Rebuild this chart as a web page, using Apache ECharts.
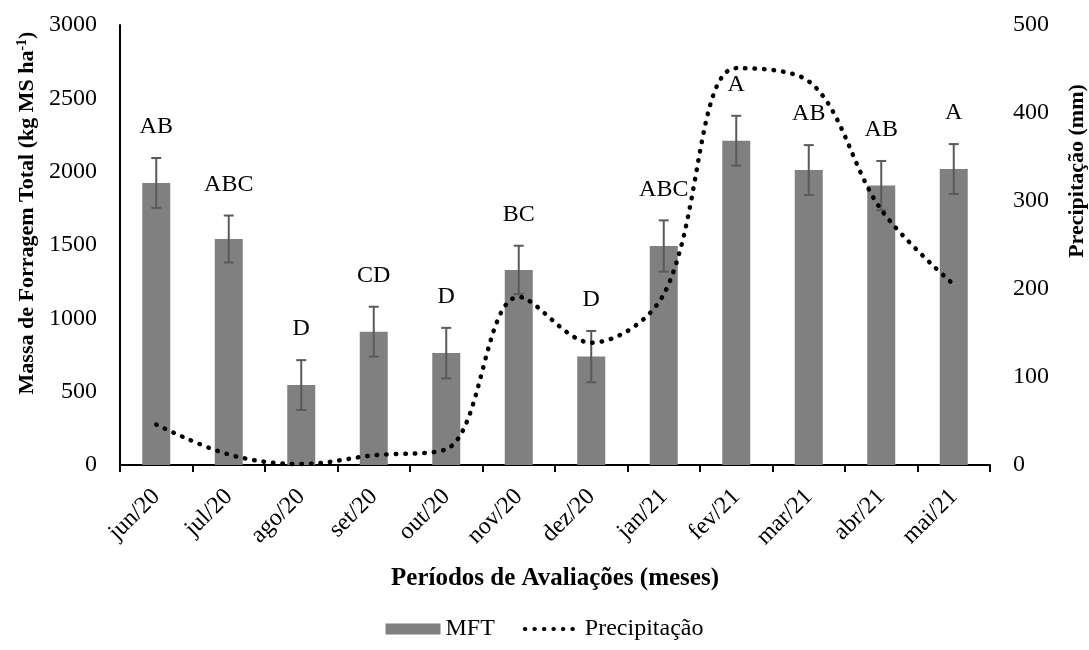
<!DOCTYPE html>
<html>
<head>
<meta charset="utf-8">
<script src="https://cdn.jsdelivr.net/npm/echarts@6/dist/echarts.min.js"></script>
<style>
  html, body { margin: 0; padding: 0; background: #fff; }
  #chart { width: 1089px; height: 650px; }
</style>
</head>
<body>
<div id="chart"></div>
<script>
const months = ['jun/20', 'jul/20', 'ago/20', 'set/20', 'out/20', 'nov/20', 'dez/20', 'jan/21', 'fev/21', 'mar/21', 'abr/21', 'mai/21'];
const mft = [1923, 1541, 545, 909, 763, 1330, 739, 1493, 2211, 2011, 1905, 2018];
const mftErr = [170, 160, 170, 170, 172, 165, 175, 175, 170, 170, 168, 170];
const letters = ['AB', 'ABC', 'D', 'CD', 'D', 'BC', 'D', 'ABC', 'A', 'AB', 'AB', 'A'];
const precip = [46, 12, 1, 11, 18, 191, 139, 194, 451, 436, 290, 205];

const font = 'Liberation Serif';
const chart = echarts.init(document.getElementById('chart'));

const errData = mft.map((v, i) => [i, v - mftErr[i], v + mftErr[i]]);

chart.setOption({
  animation: false,
  textStyle: { fontFamily: font },
  grid: { left: 120, right: 99, top: 25, bottom: 185, containLabel: false, outerBoundsMode: 'none' },
  legend: {
    bottom: 4,
    left: 'center',
    itemWidth: 55,
    itemHeight: 11,
    itemGap: 28,
    textStyle: { fontFamily: font, fontSize: 24, color: '#000' },
    data: [
      { name: 'MFT', icon: 'rect' },
      {
        name: 'Precipitação',
        itemStyle: { opacity: 0 },
        lineStyle: { color: '#000', width: 4, type: [0.5, 9], cap: 'round' }
      }
    ]
  },
  xAxis: {
    type: 'category',
    data: months,
    name: 'Períodos de Avaliações (meses)',
    nameLocation: 'middle',
    nameGap: 101,
    nameTextStyle: { fontFamily: font, fontSize: 25, fontWeight: 'bold', color: '#000' },
    axisLine: { lineStyle: { color: '#000', width: 2 } },
    axisTick: { show: true, length: 7, lineStyle: { color: '#000', width: 2 } },
    axisLabel: { rotate: 45, fontFamily: font, fontSize: 24, color: '#000', margin: 28 }
  },
  yAxis: [
    {
      type: 'value',
      min: 0,
      max: 3000,
      interval: 500,
      name: '{t|Massa de Forragem Total (kg MS ha}{s|-1}{t|)}',
      nameLocation: 'middle',
      nameGap: 79,
      nameRotate: 90,
      nameTextStyle: {
        padding: [0, 0, 0, 64],
        rich: {
          t: { fontFamily: font, fontSize: 22, fontWeight: 'bold', color: '#000' },
          s: { fontFamily: font, fontSize: 14, fontWeight: 'bold', color: '#000', padding: [0, 0, 10, 0] }
        }
      },
      axisLine: { show: true, lineStyle: { color: '#000', width: 2 } },
      axisTick: { show: false },
      splitLine: { show: false },
      axisLabel: { fontFamily: font, fontSize: 24, color: '#000', margin: 23, formatter: v => String(v) }
    },
    {
      type: 'value',
      min: 0,
      max: 500,
      interval: 100,
      name: 'Precipitação (mm)',
      nameLocation: 'middle',
      nameGap: 76,
      nameRotate: 90,
      nameTextStyle: { fontFamily: font, fontSize: 22, fontWeight: 'bold', color: '#000', padding: [0, 0, 0, 148] },
      axisLine: { show: false },
      axisTick: { show: false },
      splitLine: { show: false },
      axisLabel: { fontFamily: font, fontSize: 24, color: '#000', margin: 23, formatter: v => String(v) }
    }
  ],
  series: [
    {
      name: 'MFT',
      type: 'bar',
      data: mft,
      barWidth: 28,
      itemStyle: { color: '#808080' },
      z: 2
    },
    {
      name: 'errors',
      type: 'custom',
      data: errData,
      z: 3,
      renderItem: function (params, api) {
        const i = api.value(0);
        const lo = api.coord([i, api.value(1)]);
        const hi = api.coord([i, api.value(2)]);
        const cap = 5;
        const st = { stroke: '#5a5a5a', lineWidth: 2 };
        return {
          type: 'group',
          children: [
            { type: 'line', shape: { x1: hi[0], y1: hi[1], x2: lo[0], y2: lo[1] }, style: st },
            { type: 'line', shape: { x1: hi[0] - cap, y1: hi[1], x2: hi[0] + cap, y2: hi[1] }, style: st },
            { type: 'line', shape: { x1: lo[0] - cap, y1: lo[1], x2: lo[0] + cap, y2: lo[1] }, style: st },
            {
              type: 'text',
              x: hi[0],
              y: hi[1] - 31,
              style: {
                text: letters[params.dataIndex],
                fontFamily: font,
                fontSize: 24,
                fill: '#000',
                align: 'center',
                verticalAlign: 'middle'
              }
            }
          ]
        };
      }
    },
    {
      name: 'Precipitação',
      type: 'line',
      yAxisIndex: 1,
      data: precip,
      smooth: 0.35,
      symbol: 'none',
      z: 5,
      itemStyle: { color: '#000' },
      lineStyle: { color: '#000', width: 4.5, type: [0.5, 9], cap: 'round' }
    }
  ]
});
</script>
</body>
</html>
